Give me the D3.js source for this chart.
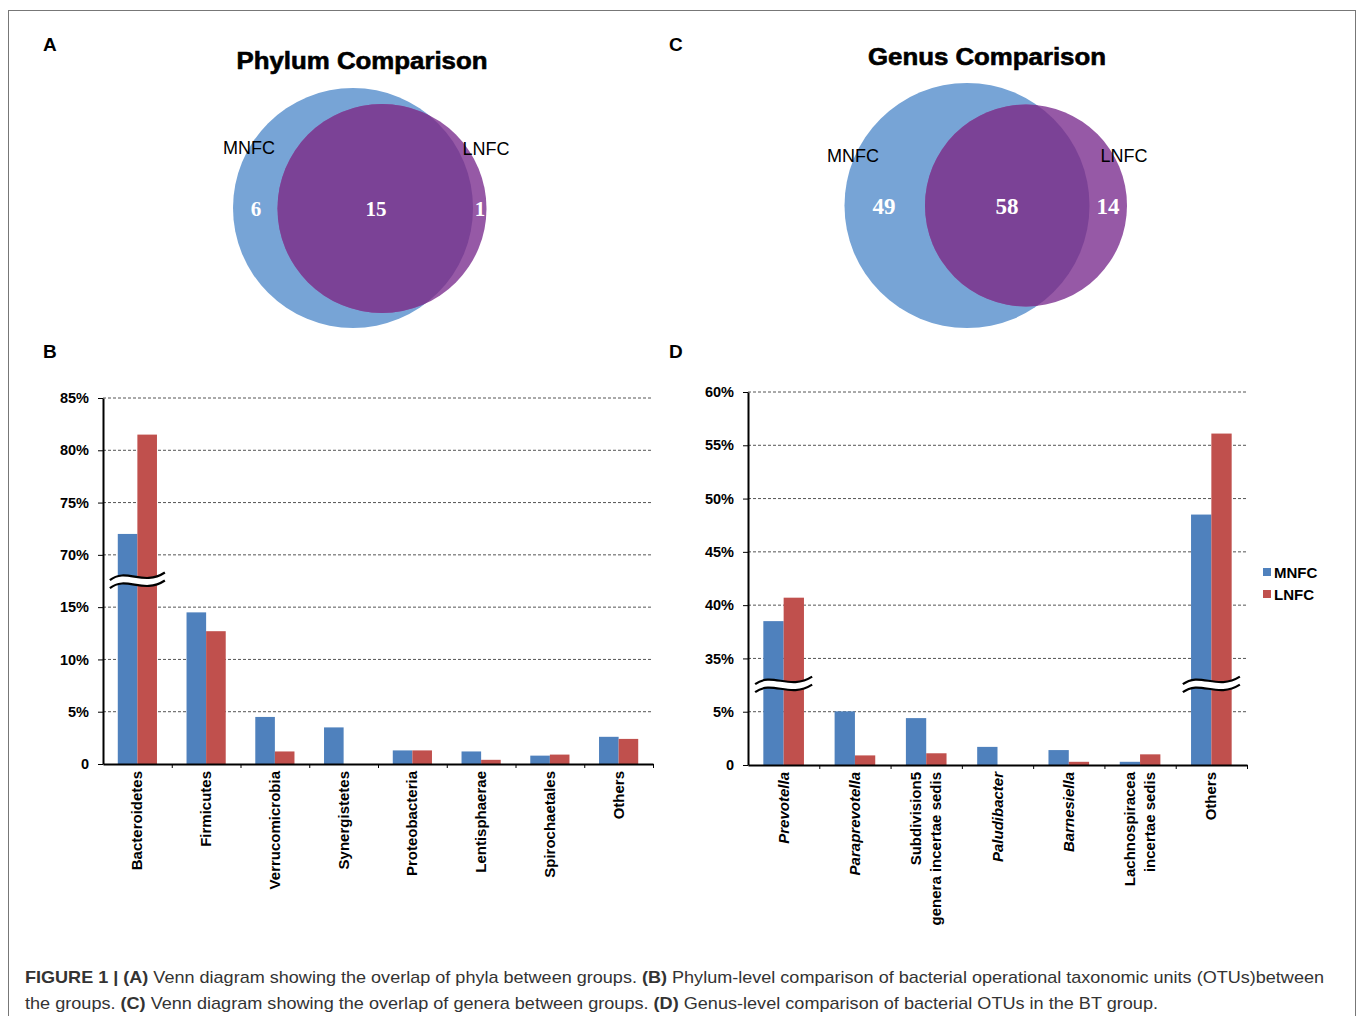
<!DOCTYPE html>
<html>
<head>
<meta charset="utf-8">
<script src="https://cdn.jsdelivr.net/npm/d3@7"></script>
<style>
  body { margin: 0; background: #fff; }
  svg { display: block; font-family: "Liberation Sans", Arial, sans-serif; }
  .grid line { stroke: #555; stroke-dasharray: 3,2; stroke-width: 1; }
  .axis path, .axis line { stroke: #000; }
  .yaxis path { stroke-width: 2; }
  .xaxis path { stroke-width: 2; }
  .axis text { font-weight: bold; font-size: 14.5px; fill: #000; font-family: "Liberation Sans", Arial, sans-serif; }
</style>
</head>
<body>
<div id="chart"></div>
<script>
// 門レベル（Phylum）
var phylumCats = ['Bacteroidetes', 'Firmicutes', 'Verrucomicrobia', 'Synergistetes',
  'Proteobacteria', 'Lentisphaerae', 'Spirochaetales', 'Others'];
var phylumMNFC = [72.0, 14.5, 4.5, 3.5, 1.3, 1.2, 0.8, 2.6];
var phylumLNFC = [81.5, 12.7, 1.2, 0, 1.3, 0.4, 0.9, 2.4];
var phylumTicks = [0, 5, 10, 15, 70, 75, 80, 85];

// 属レベル（Genus）  2行ラベルは配列で
var genusCats = [['Prevotella'], ['Paraprevotella'], ['Subdivision5', 'genera incertae sedis'],
  ['Paludibacter'], ['Barnesiella'], ['Lachnospiracea', 'incertae sedis'], ['Others']];
var genusItalic = [true, true, false, true, true, false, false];
var genusMNFC = [38.5, 5.2, 4.4, 1.7, 1.4, 0.3, 48.5];
var genusLNFC = [40.7, 0.9, 1.1, 0, 0.3, 1.0, 56.1];
var genusTicks = [0, 5, 35, 40, 45, 50, 55, 60];

// ベン図の数値 [MNFCのみ, 共通, LNFCのみ]
var seriesNames = ['MNFC', 'LNFC'];
var vennPhylum = [6, 15, 1];
var vennGenus = [49, 58, 14];

var colors = { MNFC: '#4f81bd', LNFC: '#c0504d' };

var width = 1358;
var height = 1016;

var svg = d3.select('#chart').append('svg')
  .attr('width', width).attr('height', height);

// 外枠
svg.append('rect')
  .attr('x', 8.5).attr('y', 10.5)
  .attr('width', 1347).attr('height', 1030)
  .attr('fill', 'none').attr('stroke', '#777').attr('stroke-width', 1);

// パネル記号
[['A', 43, 51], ['C', 669, 51], ['B', 43, 358], ['D', 669, 358]].forEach(function(p) {
  svg.append('text').attr('x', p[1]).attr('y', p[2])
    .attr('font-size', 19).attr('font-weight', 'bold').text(p[0]);
});

// ベン図
function drawVenn(opt) {
  var g = svg.append('g');
  var id = 'clip' + opt.key;

  g.append('text').attr('x', opt.titleX).attr('y', opt.titleY)
    .attr('text-anchor', 'middle').attr('font-size', 23).attr('font-weight', 'bold')
    .attr('stroke', '#000').attr('stroke-width', 0.6)
    .attr('textLength', opt.titleLen).attr('lengthAdjust', 'spacingAndGlyphs')
    .text(opt.title);

  g.append('defs').append('clipPath').attr('id', id)
    .append('circle').attr('cx', opt.a.cx).attr('cy', opt.a.cy).attr('r', opt.a.r);

  g.append('circle').attr('cx', opt.a.cx).attr('cy', opt.a.cy).attr('r', opt.a.r).attr('fill', '#77a4d6');
  g.append('circle').attr('cx', opt.b.cx).attr('cy', opt.b.cy).attr('r', opt.b.r).attr('fill', '#9659a6');
  g.append('circle').attr('cx', opt.b.cx).attr('cy', opt.b.cy).attr('r', opt.b.r)
    .attr('fill', '#7b4296').attr('clip-path', 'url(#' + id + ')');

  opt.labels.forEach(function(l, i) {
    g.append('text').attr('x', l[0]).attr('y', l[1]).attr('text-anchor', 'middle')
      .attr('font-size', 18).text(seriesNames[i]);
  });

  opt.values.forEach(function(v, i) {
    g.append('text').attr('x', opt.numX[i]).attr('y', opt.numY)
      .attr('text-anchor', 'middle').attr('fill', '#fff')
      .attr('font-family', '"Liberation Serif", "DejaVu Serif", serif')
      .attr('font-weight', 'bold').attr('font-size', opt.numSize)
      .text(v);
  });
}

drawVenn({
  key: 'A', title: 'Phylum Comparison', titleX: 362, titleY: 69, titleLen: 251,
  a: { cx: 353, cy: 208, r: 120 }, b: { cx: 382, cy: 208.5, r: 104.5 },
  labels: [[249, 154], [486, 155]],
  values: vennPhylum, numX: [256, 376, 480], numY: 216, numSize: 21
});

drawVenn({
  key: 'C', title: 'Genus Comparison', titleX: 987, titleY: 65, titleLen: 238,
  a: { cx: 967, cy: 205.5, r: 122.5 }, b: { cx: 1026, cy: 205.5, r: 101 },
  labels: [[853, 162], [1124, 162]],
  values: vennGenus, numX: [884, 1007, 1108], numY: 214, numSize: 23
});

// 省略記号（波線）
function drawBreak(g, cx, cy, w) {
  var a = 4.5;
  var gap = 8;
  var x0 = cx - w / 2;
  function wave(dy) {
    return 'M' + x0 + ',' + (cy + dy + a * 0.7) +
      ' C' + (x0 + w * 0.3) + ',' + (cy + dy - a * 2.2) +
      ' ' + (x0 + w * 0.6) + ',' + (cy + dy + a * 2.2) +
      ' ' + (x0 + w) + ',' + (cy + dy - a * 1.0);
  }
  var top = wave(-gap / 2);
  var bot = wave(gap / 2);
  // 白い帯
  var botRev = 'L' + (x0 + w) + ',' + (cy + gap / 2 - a * 1.0) +
    ' C' + (x0 + w * 0.6) + ',' + (cy + gap / 2 + a * 2.2) +
    ' ' + (x0 + w * 0.3) + ',' + (cy + gap / 2 - a * 2.2) +
    ' ' + x0 + ',' + (cy + gap / 2 + a * 0.7) + 'Z';
  g.append('path').attr('d', top + ' ' + botRev).attr('fill', '#fff').attr('stroke', 'none');
  g.append('path').attr('d', top).attr('fill', 'none').attr('stroke', '#000').attr('stroke-width', 2.2);
  g.append('path').attr('d', bot).attr('fill', 'none').attr('stroke', '#000').attr('stroke-width', 2.2);
}

// 棒グラフ（縦軸を途中で省略）
function drawBars(opt) {
  var g = svg.append('g');
  var n = opt.cats.length;
  var t = opt.ticks;
  var step = (opt.bottom - opt.top) / (t.length - 1);
  var breakIdx = opt.breakIdx; // t[breakIdx] と t[breakIdx+1] の間で省略

  // 区分線形スケール
  var y = d3.scaleLinear()
    .domain([0, t[breakIdx], t[breakIdx + 1], t[t.length - 1]])
    .range([opt.bottom, opt.bottom - breakIdx * step, opt.bottom - (breakIdx + 1) * step, opt.top]);

  var x0 = d3.scaleBand().domain(d3.range(n)).range([opt.left, opt.right]).paddingInner(0).paddingOuter(0);
  var bw = x0.bandwidth();
  var x1 = d3.scaleBand().domain(seriesNames).range([bw * 0.215, bw * 0.785]);

  // グリッド線
  g.append('g').attr('class', 'grid')
    .selectAll('line').data(t.filter(function(d) { return d !== 0; })).enter()
    .append('line')
    .attr('x1', opt.left).attr('x2', opt.right)
    .attr('y1', function(d) { return y(d); }).attr('y2', function(d) { return y(d); });

  // 棒
  var data = opt.cats.map(function(c, i) {
    return { i: i, vals: [{ s: 'MNFC', v: opt.mnfc[i] }, { s: 'LNFC', v: opt.lnfc[i] }] };
  });
  var grp = g.selectAll('.bar-g').data(data).enter().append('g')
    .attr('transform', function(d) { return 'translate(' + x0(d.i) + ',0)'; });
  grp.selectAll('rect').data(function(d) { return d.vals.filter(function(e) { return e.v > 0; }); })
    .enter().append('rect')
    .attr('x', function(d) { return x1(d.s); })
    .attr('width', x1.bandwidth())
    .attr('y', function(d) { return y(d.v); })
    .attr('height', function(d) { return opt.bottom - y(d.v); })
    .attr('fill', function(d) { return colors[d.s]; });

  // 波線
  var yBreak = (y(t[breakIdx]) + y(t[breakIdx + 1])) / 2;
  data.forEach(function(d) {
    if (d3.max(d.vals, function(e) { return e.v; }) > t[breakIdx + 1]) {
      drawBreak(g, x0(d.i) + bw / 2, yBreak, bw * 0.8);
    }
  });

  // Y軸
  g.append('g').attr('class', 'axis yaxis')
    .attr('transform', 'translate(' + opt.left + ',0)')
    .call(d3.axisLeft(y).tickValues(t).tickSize(5).tickSizeOuter(0).tickPadding(9)
      .tickFormat(function(d) { return d === 0 ? '0' : d + '%'; }));

  // X軸（境界に目盛り）
  var xl = d3.scaleLinear().domain([0, n]).range([opt.left, opt.right]);
  g.append('g').attr('class', 'axis xaxis')
    .attr('transform', 'translate(0,' + opt.bottom + ')')
    .call(d3.axisBottom(xl).tickValues(d3.range(1, n + 1)).tickSize(4).tickSizeOuter(0).tickFormat(''));

  // カテゴリラベル（縦書き）
  opt.cats.forEach(function(c, i) {
    var lines = Array.isArray(c) ? c : [c];
    var cx = x0(i) + bw / 2;
    lines.forEach(function(s, k) {
      var lx = cx + (k - (lines.length - 1) / 2) * 20 + 5;
      g.append('text')
        .attr('transform', 'translate(' + lx + ',' + (opt.bottom + 7) + ') rotate(-90)')
        .attr('text-anchor', 'end')
        .attr('font-size', 15).attr('font-weight', 'bold')
        .attr('font-style', opt.italic && opt.italic[i] ? 'italic' : 'normal')
        .text(s);
    });
  });

  return g;
}

drawBars({
  cats: phylumCats, mnfc: phylumMNFC, lnfc: phylumLNFC, ticks: phylumTicks, breakIdx: 3,
  left: 103, right: 653, top: 398, bottom: 764
});

drawBars({
  cats: genusCats, italic: genusItalic, mnfc: genusMNFC, lnfc: genusLNFC, ticks: genusTicks, breakIdx: 1,
  left: 748, right: 1247, top: 392, bottom: 765
});

// 凡例
var legend = svg.append('g').attr('transform', 'translate(1263,568)');
seriesNames.forEach(function(s, i) {
  legend.append('rect').attr('x', 0).attr('y', i * 22).attr('width', 8).attr('height', 8).attr('fill', colors[s]);
  legend.append('text').attr('x', 11).attr('y', i * 22 + 9.5)
    .attr('font-size', 15).attr('font-weight', 'bold').text(s);
});

// キャプション
var cap = svg.append('g').attr('fill', '#333').attr('font-size', 17);
var line1 = cap.append('text').attr('x', 25).attr('y', 983)
  .attr('textLength', 1299).attr('lengthAdjust', 'spacingAndGlyphs');
[['FIGURE 1 | ', true], ['(A)', true], [' Venn diagram showing the overlap of phyla between groups. ', false],
  ['(B)', true], [' Phylum-level comparison of bacterial operational taxonomic units (OTUs)between', false]]
  .forEach(function(p) { line1.append('tspan').attr('font-weight', p[1] ? 'bold' : 'normal').text(p[0]); });
var line2 = cap.append('text').attr('x', 25).attr('y', 1009)
  .attr('textLength', 1133).attr('lengthAdjust', 'spacingAndGlyphs');
[['the groups. ', false], ['(C)', true], [' Venn diagram showing the overlap of genera between groups. ', false],
  ['(D)', true], [' Genus-level comparison of bacterial OTUs in the BT group.', false]]
  .forEach(function(p) { line2.append('tspan').attr('font-weight', p[1] ? 'bold' : 'normal').text(p[0]); });
</script>
</body>
</html>
